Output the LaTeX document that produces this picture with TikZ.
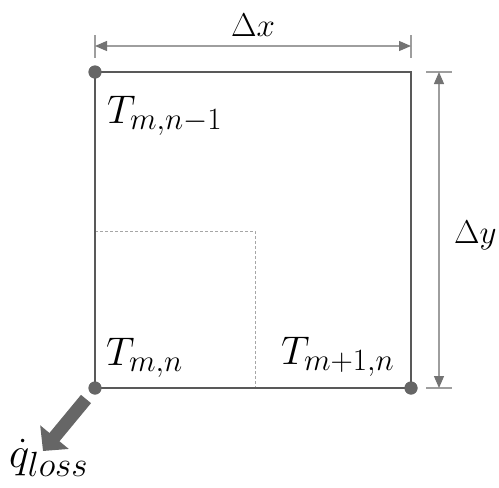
\RequirePackage{fix-cm}
\documentclass[tikz,border=0pt]{standalone}
\usetikzlibrary{arrows.meta}
\DeclareMathSizes{40}{40}{31}{24}
\DeclareMathSizes{43}{43}{35}{26}
\begin{document}
\begin{tikzpicture}[x=1pt,y=-1pt,
  frame/.style={draw=black!65, line width=1.6pt},
  dashbox/.style={draw=black!35, line width=0.9pt, dash pattern=on 3pt off 2pt},
  dimline/.style={draw=black!38, line width=1.2pt},
  dimtips/.style={dimline, {Triangle[width=10pt,length=12pt,color=black!55,fill=black!55]}-{Triangle[width=10pt,length=12pt,color=black!55,fill=black!55]}},
  dot/.style={circle, fill=black!60, draw=none, minimum size=13pt, inner sep=0pt},
  lbl/.style={anchor=base west, inner sep=0pt, font=\fontsize{40}{44}\selectfont},
  qlbl/.style={anchor=base west, inner sep=0pt, font=\fontsize{43}{48}\selectfont},
  dlbl/.style={anchor=base west, inner sep=0pt, font=\fontsize{33}{38}\selectfont},
  lossarrow/.style={draw=black!60, line width=13pt, -{Triangle[width=36pt,length=18pt,color=black!60,fill=black!60]}}
]
\useasboundingbox (0,0) rectangle (499,488);
% corners
\node[dot] (tl) at (95,72) {};
\node[dot] (bl) at (95,388) {};
\node[dot] (br) at (411,388) {};
\coordinate (tr) at (411,72);
% dashed sub-cell
\coordinate (da) at (95,231);
\coordinate (db) at (255,231);
\coordinate (dc) at (255,388);
\draw[dashbox] (da) -- (db) -- (dc);
% frame
\draw[frame] (tl.center) -- (tr) -- (br.center) -- (bl.center) -- cycle;
\node[dot] at (95,72) {};
\node[dot] at (95,388) {};
\node[dot] at (411,388) {};
% dimension dx
\coordinate (xa1) at (95,35); \coordinate (xa2) at (95,58);
\coordinate (xb1) at (411,35); \coordinate (xb2) at (411,58);
\draw[dimline] (xa1) -- (xa2);
\draw[dimline] (xb1) -- (xb2);
\coordinate (xl) at (95,46); \coordinate (xr) at (411,46);
\draw[dimtips] (xl) -- (xr);
\node[dlbl] (dx) at (231,36) {$\Delta x$};
% dimension dy
\coordinate (ya1) at (426,72); \coordinate (ya2) at (452,72);
\coordinate (yb1) at (426,388); \coordinate (yb2) at (452,388);
\draw[dimline] (ya1) -- (ya2);
\draw[dimline] (yb1) -- (yb2);
\coordinate (yt) at (439,72); \coordinate (yb) at (439,388);
\draw[dimtips] (yt) -- (yb);
\node[dlbl] (dy) at (454,243) {$\Delta y$};
% labels
\node[lbl] (t1) at (107,123) {$T_{m,n-1}$};
\node[lbl] (t2) at (106,365) {$T_{m,n}$};
\node[lbl] (t3) at (281,364) {$T_{m+1,n}$};
% heat loss
\coordinate (qs) at (86,399);
\coordinate (qe) at (43,451);
\draw[lossarrow] (qs) -- (qe);
\node[qlbl] (q) at (9,467) {$\dot q_{loss}$};
\end{tikzpicture}
\end{document}
